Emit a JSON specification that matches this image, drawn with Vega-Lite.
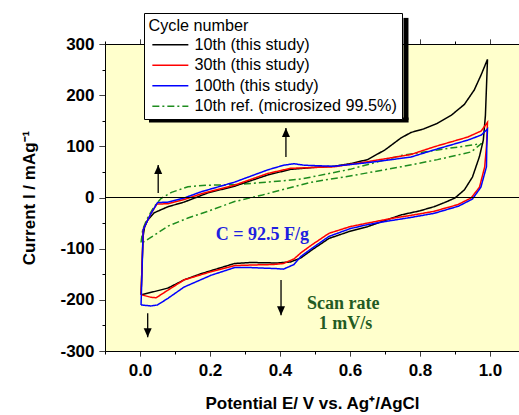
{
  "$schema": "https://vega.github.io/schema/vega-lite/v6.json",
  "width": 414,
  "height": 307,
  "autosize": {"type": "none"},
  "padding": {"left": 105, "top": 44, "right": 0, "bottom": 64},
  "background": "white",
  "config": {
    "view": {"fill": "#ffffcc", "stroke": null},
    "font": "Liberation Sans",
    "axis": {
      "grid": false,
      "domainColor": "black",
      "tickColor": "black",
      "labelColor": "black",
      "titleColor": "black",
      "labelFont": "Liberation Sans",
      "titleFont": "Liberation Sans",
      "labelFontSize": 17,
      "labelFontWeight": "bold",
      "titleFontSize": 17,
      "titleFontWeight": "bold",
      "domainWidth": 1,
      "tickWidth": 1,
      "labelOverlap": false
    },
    "legend": {
      "fillColor": "white",
      "strokeColor": "black",
      "padding": 4.5,
      "titleFont": "Liberation Sans",
      "titleFontSize": 16.2,
      "titleFontWeight": "normal",
      "titleColor": "black",
      "titlePadding": 3,
      "labelFont": "Liberation Sans",
      "labelFontSize": 16.2,
      "labelColor": "black",
      "labelLimit": 400,
      "symbolType": "M-3,0H3",
      "symbolSize": 144,
      "symbolStrokeWidth": 1.5,
      "symbolOffset": 13.75,
      "labelOffset": 16,
      "rowPadding": 3.5
    }
  },
  "datasets": {
    "cv": [
      {"series": "10th ref. (microsized 99.5%)", "i": 1, "x": 0.003, "y": -88},
      {"series": "10th ref. (microsized 99.5%)", "i": 2, "x": 0.008, "y": -62},
      {"series": "10th ref. (microsized 99.5%)", "i": 3, "x": 0.02, "y": -42},
      {"series": "10th ref. (microsized 99.5%)", "i": 4, "x": 0.04, "y": -18},
      {"series": "10th ref. (microsized 99.5%)", "i": 5, "x": 0.06, "y": -2},
      {"series": "10th ref. (microsized 99.5%)", "i": 6, "x": 0.09, "y": 10},
      {"series": "10th ref. (microsized 99.5%)", "i": 7, "x": 0.137, "y": 21},
      {"series": "10th ref. (microsized 99.5%)", "i": 8, "x": 0.19, "y": 24},
      {"series": "10th ref. (microsized 99.5%)", "i": 9, "x": 0.27, "y": 25},
      {"series": "10th ref. (microsized 99.5%)", "i": 10, "x": 0.365, "y": 30},
      {"series": "10th ref. (microsized 99.5%)", "i": 11, "x": 0.46, "y": 36},
      {"series": "10th ref. (microsized 99.5%)", "i": 12, "x": 0.6, "y": 55},
      {"series": "10th ref. (microsized 99.5%)", "i": 13, "x": 0.746, "y": 82},
      {"series": "10th ref. (microsized 99.5%)", "i": 14, "x": 0.85, "y": 93},
      {"series": "10th ref. (microsized 99.5%)", "i": 15, "x": 0.975, "y": 105},
      {"series": "10th ref. (microsized 99.5%)", "i": 16, "x": 0.946, "y": 89},
      {"series": "10th ref. (microsized 99.5%)", "i": 17, "x": 0.85, "y": 74},
      {"series": "10th ref. (microsized 99.5%)", "i": 18, "x": 0.746, "y": 60},
      {"series": "10th ref. (microsized 99.5%)", "i": 19, "x": 0.6, "y": 42},
      {"series": "10th ref. (microsized 99.5%)", "i": 20, "x": 0.49, "y": 30},
      {"series": "10th ref. (microsized 99.5%)", "i": 21, "x": 0.35, "y": 5},
      {"series": "10th ref. (microsized 99.5%)", "i": 22, "x": 0.27, "y": -8},
      {"series": "10th ref. (microsized 99.5%)", "i": 23, "x": 0.19, "y": -28},
      {"series": "10th ref. (microsized 99.5%)", "i": 24, "x": 0.137, "y": -40},
      {"series": "10th ref. (microsized 99.5%)", "i": 25, "x": 0.08, "y": -56},
      {"series": "10th ref. (microsized 99.5%)", "i": 26, "x": 0.031, "y": -78},
      {"series": "10th ref. (microsized 99.5%)", "i": 27, "x": 0.003, "y": -90},

      {"series": "10th (this study)", "i": 1, "x": 0.003, "y": -190},
      {"series": "10th (this study)", "i": 2, "x": 0.006, "y": -130},
      {"series": "10th (this study)", "i": 3, "x": 0.009, "y": -75},
      {"series": "10th (this study)", "i": 4, "x": 0.013, "y": -58},
      {"series": "10th (this study)", "i": 5, "x": 0.022, "y": -44},
      {"series": "10th (this study)", "i": 6, "x": 0.04, "y": -30},
      {"series": "10th (this study)", "i": 7, "x": 0.08, "y": -18},
      {"series": "10th (this study)", "i": 8, "x": 0.126, "y": -9},
      {"series": "10th (this study)", "i": 9, "x": 0.194, "y": 9},
      {"series": "10th (this study)", "i": 10, "x": 0.27, "y": 22},
      {"series": "10th (this study)", "i": 11, "x": 0.365, "y": 44},
      {"series": "10th (this study)", "i": 12, "x": 0.43, "y": 55},
      {"series": "10th (this study)", "i": 13, "x": 0.5, "y": 59},
      {"series": "10th (this study)", "i": 14, "x": 0.554, "y": 61},
      {"series": "10th (this study)", "i": 15, "x": 0.6, "y": 66},
      {"series": "10th (this study)", "i": 16, "x": 0.65, "y": 74},
      {"series": "10th (this study)", "i": 17, "x": 0.7, "y": 93},
      {"series": "10th (this study)", "i": 18, "x": 0.745, "y": 116},
      {"series": "10th (this study)", "i": 19, "x": 0.774, "y": 127},
      {"series": "10th (this study)", "i": 20, "x": 0.81, "y": 134},
      {"series": "10th (this study)", "i": 21, "x": 0.85, "y": 145},
      {"series": "10th (this study)", "i": 22, "x": 0.89, "y": 161},
      {"series": "10th (this study)", "i": 23, "x": 0.927, "y": 182},
      {"series": "10th (this study)", "i": 24, "x": 0.955, "y": 210},
      {"series": "10th (this study)", "i": 25, "x": 0.975, "y": 240},
      {"series": "10th (this study)", "i": 26, "x": 0.993, "y": 270},
      {"series": "10th (this study)", "i": 27, "x": 0.987, "y": 160},
      {"series": "10th (this study)", "i": 28, "x": 0.981, "y": 112},
      {"series": "10th (this study)", "i": 29, "x": 0.97, "y": 80},
      {"series": "10th (this study)", "i": 30, "x": 0.95, "y": 40},
      {"series": "10th (this study)", "i": 31, "x": 0.927, "y": 15},
      {"series": "10th (this study)", "i": 32, "x": 0.9, "y": -1},
      {"series": "10th (this study)", "i": 33, "x": 0.87, "y": -10},
      {"series": "10th (this study)", "i": 34, "x": 0.84, "y": -18},
      {"series": "10th (this study)", "i": 35, "x": 0.8, "y": -26},
      {"series": "10th (this study)", "i": 36, "x": 0.746, "y": -34},
      {"series": "10th (this study)", "i": 37, "x": 0.7, "y": -45},
      {"series": "10th (this study)", "i": 38, "x": 0.65, "y": -57},
      {"series": "10th (this study)", "i": 39, "x": 0.6, "y": -66},
      {"series": "10th (this study)", "i": 40, "x": 0.54, "y": -80},
      {"series": "10th (this study)", "i": 41, "x": 0.49, "y": -103},
      {"series": "10th (this study)", "i": 42, "x": 0.46, "y": -118},
      {"series": "10th (this study)", "i": 43, "x": 0.43, "y": -126},
      {"series": "10th (this study)", "i": 44, "x": 0.39, "y": -128},
      {"series": "10th (this study)", "i": 45, "x": 0.317, "y": -127},
      {"series": "10th (this study)", "i": 46, "x": 0.27, "y": -129},
      {"series": "10th (this study)", "i": 47, "x": 0.203, "y": -143},
      {"series": "10th (this study)", "i": 48, "x": 0.174, "y": -149},
      {"series": "10th (this study)", "i": 49, "x": 0.126, "y": -161},
      {"series": "10th (this study)", "i": 50, "x": 0.08, "y": -177},
      {"series": "10th (this study)", "i": 51, "x": 0.04, "y": -184},
      {"series": "10th (this study)", "i": 52, "x": 0.003, "y": -190},

      {"series": "30th (this study)", "i": 1, "x": 0.003, "y": -190},
      {"series": "30th (this study)", "i": 2, "x": 0.006, "y": -130},
      {"series": "30th (this study)", "i": 3, "x": 0.009, "y": -63},
      {"series": "30th (this study)", "i": 4, "x": 0.03, "y": -33},
      {"series": "30th (this study)", "i": 5, "x": 0.048, "y": -13},
      {"series": "30th (this study)", "i": 6, "x": 0.08, "y": -12},
      {"series": "30th (this study)", "i": 7, "x": 0.126, "y": -4},
      {"series": "30th (this study)", "i": 8, "x": 0.174, "y": 7},
      {"series": "30th (this study)", "i": 9, "x": 0.27, "y": 24},
      {"series": "30th (this study)", "i": 10, "x": 0.365, "y": 47},
      {"series": "30th (this study)", "i": 11, "x": 0.43, "y": 57},
      {"series": "30th (this study)", "i": 12, "x": 0.47, "y": 58},
      {"series": "30th (this study)", "i": 13, "x": 0.554, "y": 60},
      {"series": "30th (this study)", "i": 14, "x": 0.65, "y": 70},
      {"series": "30th (this study)", "i": 15, "x": 0.774, "y": 84},
      {"series": "30th (this study)", "i": 16, "x": 0.84, "y": 99},
      {"series": "30th (this study)", "i": 17, "x": 0.936, "y": 118},
      {"series": "30th (this study)", "i": 18, "x": 0.975, "y": 130},
      {"series": "30th (this study)", "i": 19, "x": 0.993, "y": 147},
      {"series": "30th (this study)", "i": 20, "x": 0.99, "y": 100},
      {"series": "30th (this study)", "i": 21, "x": 0.985, "y": 60},
      {"series": "30th (this study)", "i": 22, "x": 0.97, "y": 20},
      {"series": "30th (this study)", "i": 23, "x": 0.946, "y": -1},
      {"series": "30th (this study)", "i": 24, "x": 0.908, "y": -14},
      {"series": "30th (this study)", "i": 25, "x": 0.84, "y": -27},
      {"series": "30th (this study)", "i": 26, "x": 0.774, "y": -35},
      {"series": "30th (this study)", "i": 27, "x": 0.726, "y": -40},
      {"series": "30th (this study)", "i": 28, "x": 0.65, "y": -50},
      {"series": "30th (this study)", "i": 29, "x": 0.6, "y": -57},
      {"series": "30th (this study)", "i": 30, "x": 0.54, "y": -70},
      {"series": "30th (this study)", "i": 31, "x": 0.49, "y": -93},
      {"series": "30th (this study)", "i": 32, "x": 0.46, "y": -108},
      {"series": "30th (this study)", "i": 33, "x": 0.44, "y": -120},
      {"series": "30th (this study)", "i": 34, "x": 0.41, "y": -129},
      {"series": "30th (this study)", "i": 35, "x": 0.38, "y": -131},
      {"series": "30th (this study)", "i": 36, "x": 0.317, "y": -132},
      {"series": "30th (this study)", "i": 37, "x": 0.27, "y": -133},
      {"series": "30th (this study)", "i": 38, "x": 0.203, "y": -145},
      {"series": "30th (this study)", "i": 39, "x": 0.126, "y": -161},
      {"series": "30th (this study)", "i": 40, "x": 0.08, "y": -181},
      {"series": "30th (this study)", "i": 41, "x": 0.046, "y": -196},
      {"series": "30th (this study)", "i": 42, "x": 0.031, "y": -195},
      {"series": "30th (this study)", "i": 43, "x": 0.003, "y": -190},

      {"series": "100th (this study)", "i": 1, "x": 0.003, "y": -210},
      {"series": "100th (this study)", "i": 2, "x": 0.006, "y": -140},
      {"series": "100th (this study)", "i": 3, "x": 0.009, "y": -63},
      {"series": "100th (this study)", "i": 4, "x": 0.03, "y": -33},
      {"series": "100th (this study)", "i": 5, "x": 0.05, "y": -10},
      {"series": "100th (this study)", "i": 6, "x": 0.08, "y": -9},
      {"series": "100th (this study)", "i": 7, "x": 0.126, "y": -1},
      {"series": "100th (this study)", "i": 8, "x": 0.174, "y": 11},
      {"series": "100th (this study)", "i": 9, "x": 0.27, "y": 30},
      {"series": "100th (this study)", "i": 10, "x": 0.365, "y": 54},
      {"series": "100th (this study)", "i": 11, "x": 0.41, "y": 63},
      {"series": "100th (this study)", "i": 12, "x": 0.44, "y": 66},
      {"series": "100th (this study)", "i": 13, "x": 0.47, "y": 63},
      {"series": "100th (this study)", "i": 14, "x": 0.554, "y": 61},
      {"series": "100th (this study)", "i": 15, "x": 0.65, "y": 68},
      {"series": "100th (this study)", "i": 16, "x": 0.774, "y": 79},
      {"series": "100th (this study)", "i": 17, "x": 0.84, "y": 93},
      {"series": "100th (this study)", "i": 18, "x": 0.936, "y": 112},
      {"series": "100th (this study)", "i": 19, "x": 0.975, "y": 122},
      {"series": "100th (this study)", "i": 20, "x": 0.993, "y": 134},
      {"series": "100th (this study)", "i": 21, "x": 0.991, "y": 100},
      {"series": "100th (this study)", "i": 22, "x": 0.99, "y": 60},
      {"series": "100th (this study)", "i": 23, "x": 0.974, "y": 20},
      {"series": "100th (this study)", "i": 24, "x": 0.95, "y": -3},
      {"series": "100th (this study)", "i": 25, "x": 0.91, "y": -17},
      {"series": "100th (this study)", "i": 26, "x": 0.84, "y": -31},
      {"series": "100th (this study)", "i": 27, "x": 0.774, "y": -39},
      {"series": "100th (this study)", "i": 28, "x": 0.7, "y": -47},
      {"series": "100th (this study)", "i": 29, "x": 0.65, "y": -53},
      {"series": "100th (this study)", "i": 30, "x": 0.6, "y": -61},
      {"series": "100th (this study)", "i": 31, "x": 0.54, "y": -76},
      {"series": "100th (this study)", "i": 32, "x": 0.49, "y": -100},
      {"series": "100th (this study)", "i": 33, "x": 0.46, "y": -115},
      {"series": "100th (this study)", "i": 34, "x": 0.44, "y": -131},
      {"series": "100th (this study)", "i": 35, "x": 0.41, "y": -140},
      {"series": "100th (this study)", "i": 36, "x": 0.39, "y": -139},
      {"series": "100th (this study)", "i": 37, "x": 0.317, "y": -137},
      {"series": "100th (this study)", "i": 38, "x": 0.27, "y": -137},
      {"series": "100th (this study)", "i": 39, "x": 0.203, "y": -152},
      {"series": "100th (this study)", "i": 40, "x": 0.126, "y": -175},
      {"series": "100th (this study)", "i": 41, "x": 0.08, "y": -197},
      {"series": "100th (this study)", "i": 42, "x": 0.05, "y": -210},
      {"series": "100th (this study)", "i": 43, "x": 0.031, "y": -212},
      {"series": "100th (this study)", "i": 44, "x": 0.003, "y": -210}
    ],
    "arrows": [
      {"x": 0.052, "y": 9, "y2": 63.5, "dir": "up"},
      {"x": 0.417, "y": 79, "y2": 136, "dir": "up"},
      {"x": 0.022, "y": -226, "y2": -273, "dir": "down"},
      {"x": 0.403, "y": -161, "y2": -230, "dir": "down"}
    ],
    "notes": [
      {"label": "C = 92.5 F/g", "x": 0.35, "y": -83, "kind": "c"},
      {"label": "Scan rate", "x": 0.581, "y": -218.5, "kind": "s"},
      {"label": "1 mV/s", "x": 0.587, "y": -257, "kind": "s"}
    ]
  },
  "layer": [
    {
      "data": {"name": "cv"},
      "mark": {"type": "line", "strokeWidth": 1.5},
      "encoding": {
        "x": {
          "field": "x", "type": "quantitative",
          "scale": {"domain": [-0.1, 1.083], "nice": false, "zero": false},
          "axis": {
            "orient": "bottom",
            "values": [-0.1, 0, 0.1, 0.2, 0.3, 0.4, 0.5, 0.6, 0.7, 0.8, 0.9, 1.0],
            "labelExpr": "round(datum.value*10) % 2 === 0 ? format(datum.value, '.1f') : ''",
            "tickSize": 5,
            "tickDash": {"condition": {"test": "round(datum.value*10) % 2 === 0", "value": [1, 0]}, "value": [3, 20]},
            "labelPadding": 6,
            "title": "Potential E/ V vs. Ag⁺/AgCl",
            "titlePadding": 17
          }
        },
        "y": {
          "field": "y", "type": "quantitative",
          "scale": {"domain": [-300, 300], "nice": false, "zero": false},
          "axis": {
            "orient": "left",
            "values": [-300, -250, -200, -150, -100, -50, 0, 50, 100, 150, 200, 250, 300],
            "labelExpr": "datum.value % 100 === 0 ? '' + datum.value : ''",
            "tickSize": 6,
            "tickDash": {"condition": {"test": "datum.value % 100 === 0", "value": [1, 0]}, "value": [3, 20]},
            "labelPadding": 5,
            "title": "Current I / mAg⁻¹",
            "titlePadding": 21
          }
        },
        "color": {
          "field": "series", "type": "nominal",
          "scale": {
            "domain": ["10th (this study)", "30th (this study)", "100th (this study)", "10th ref. (microsized 99.5%)"],
            "range": ["#000000", "#ff0000", "#0000ff", "#1e8c1e"]
          },
          "legend": {"title": "Cycle number", "orient": "none", "legendX": 39, "legendY": -31}
        },
        "strokeDash": {
          "field": "series", "type": "nominal",
          "scale": {
            "domain": ["10th (this study)", "30th (this study)", "100th (this study)", "10th ref. (microsized 99.5%)"],
            "range": [[1, 0], [1, 0], [1, 0], [7, 3, 2, 3]]
          },
          "legend": {"title": "Cycle number", "orient": "none", "legendX": 39, "legendY": -31}
        },
        "order": {"field": "i", "type": "quantitative"}
      }
    },
    {
      "data": {"values": [{"y": 0}]},
      "mark": {"type": "rule", "color": "black", "strokeWidth": 1},
      "encoding": {
        "y": {"field": "y", "type": "quantitative", "axis": null}
      }
    },
    {
      "data": {"name": "arrows"},
      "mark": {"type": "rule", "color": "black", "strokeWidth": 1.3},
      "encoding": {
        "x": {
          "field": "x", "type": "quantitative",
          "axis": {
            "orient": "top",
            "values": [-0.1, 0, 0.1, 0.2, 0.3, 0.4, 0.5, 0.6, 0.7, 0.8, 0.9, 1.0],
            "labels": false,
            "title": null,
            "tickSize": 5,
            "tickDash": {"condition": {"test": "round(datum.value*10) % 2 === 0", "value": [1, 0]}, "value": [3, 20]}
          }
        },
        "y": {"field": "y", "type": "quantitative", "axis": null},
        "y2": {"field": "y2"}
      }
    },
    {
      "data": {"name": "arrows"},
      "transform": [{"filter": "datum.dir === 'up'"}],
      "mark": {"type": "point", "shape": "M0,0L-1,2.25L1,2.25Z", "filled": true, "size": 64, "color": "black", "opacity": 1, "strokeWidth": 0},
      "encoding": {
        "x": {"field": "x", "type": "quantitative", "axis": null},
        "y": {"field": "y2", "type": "quantitative", "axis": null}
      }
    },
    {
      "data": {"name": "arrows"},
      "transform": [{"filter": "datum.dir === 'down'"}],
      "mark": {"type": "point", "shape": "M0,0L-1,-2.25L1,-2.25Z", "filled": true, "size": 64, "color": "black", "opacity": 1, "strokeWidth": 0},
      "encoding": {
        "x": {"field": "x", "type": "quantitative", "axis": null},
        "y": {"field": "y2", "type": "quantitative", "axis": null}
      }
    },
    {
      "data": {"name": "notes"},
      "transform": [{"filter": "datum.kind === 'c'"}],
      "mark": {"type": "text", "font": "Liberation Serif", "fontWeight": "bold", "fontSize": 18, "color": "#2020e0", "align": "center", "baseline": "alphabetic"},
      "encoding": {
        "x": {"field": "x", "type": "quantitative", "axis": null},
        "y": {"field": "y", "type": "quantitative", "axis": null},
        "text": {"field": "label"}
      }
    },
    {
      "data": {"name": "notes"},
      "transform": [{"filter": "datum.kind === 's'"}],
      "mark": {"type": "text", "font": "Liberation Serif", "fontWeight": "bold", "fontSize": 18, "color": "#235b23", "align": "center", "baseline": "alphabetic"},
      "encoding": {
        "x": {"field": "x", "type": "quantitative", "axis": null},
        "y": {"field": "y", "type": "quantitative", "axis": null},
        "text": {"field": "label"}
      }
    },
    {
      "data": {"values": [{"x": 0.760, "y": 151.5, "y2": 351}]},
      "mark": {"type": "rule", "color": "black", "strokeWidth": 5},
      "encoding": {
        "x": {"field": "x", "type": "quantitative", "axis": null},
        "y": {"field": "y", "type": "quantitative", "axis": null},
        "y2": {"field": "y2"}
      }
    },
    {
      "data": {"values": [{"x": 0.0257, "x2": 0.7675, "y": 151.5}]},
      "mark": {"type": "rule", "color": "black", "strokeWidth": 5},
      "encoding": {
        "x": {"field": "x", "type": "quantitative", "axis": null},
        "x2": {"field": "x2"},
        "y": {"field": "y", "type": "quantitative", "axis": null}
      }
    }
  ],
  "resolve": {"axis": {"x": "independent", "y": "independent"}}
}
